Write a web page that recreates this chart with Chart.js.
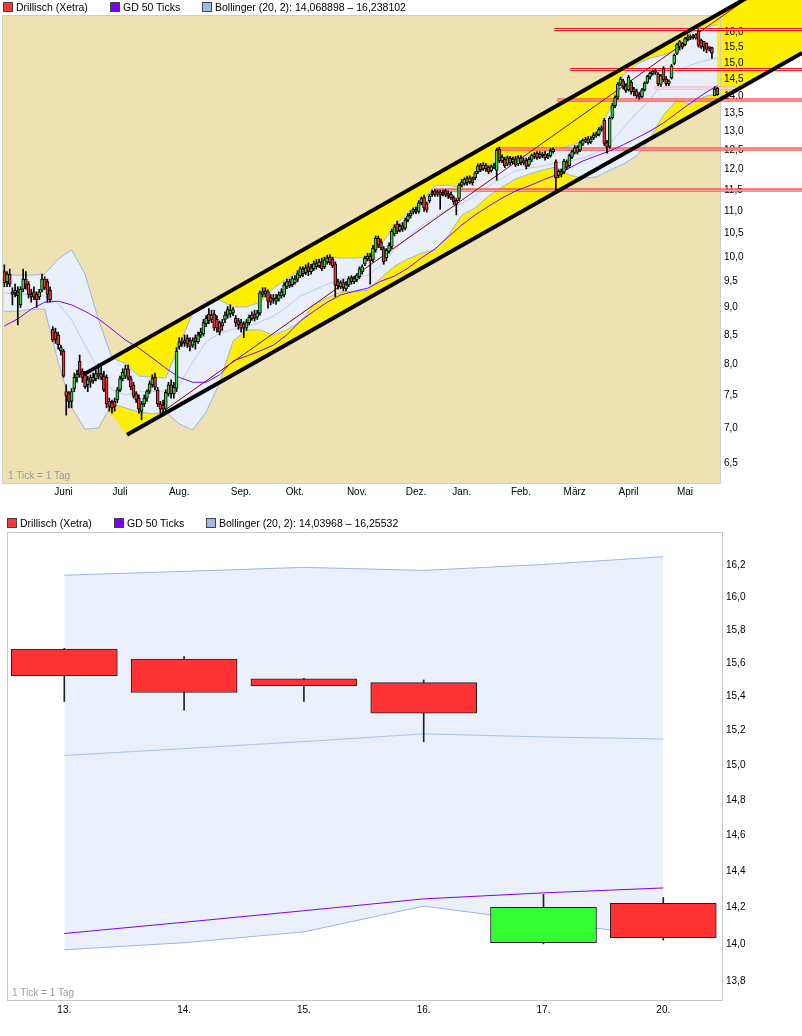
<!DOCTYPE html>
<html lang="de">
<head>
<meta charset="utf-8">
<title>Drillisch (Xetra)</title>
<script src="https://cdn.jsdelivr.net/npm/chart.js@4.4.1/dist/chart.umd.min.js"></script>
<style>
  html, body { margin: 0; padding: 0; background: #fff; }
  body { width: 802px; height: 1036px; position: relative; overflow: hidden;
         font-family: "Liberation Sans", Arial, sans-serif; }
  .panel { position: absolute; left: 0; width: 802px; }
  #panelYear { top: 0; height: 505px; }
  #panelDays { top: 510px; height: 526px; }
  canvas { position: absolute; left: 0; top: 0; }
  .legend { position: absolute; left: 0; font-size: 10.5px; color: #000; white-space: nowrap; }
  .legend span { position: absolute; top: 0; line-height: 12px; }
  .legend i { display: inline-block; width: 8px; height: 8px; border: 1px solid #444;
              margin-right: 3px; vertical-align: -1px; }
</style>
</head>
<body>

<div class="panel" id="panelYear">
  <canvas id="chartYear" width="802" height="505"></canvas>
  <div class="legend" style="top:1px">
    <span style="left:3px"><i style="background:#FF3333"></i>Drillisch (Xetra)</span>
    <span style="left:110px"><i style="background:#7A00FF"></i>GD 50 Ticks</span>
    <span style="left:202px"><i style="background:#A3B8E2"></i>Bollinger (20, 2): 14,068898 – 16,238102</span>
  </div>
</div>

<div class="panel" id="panelDays">
  <canvas id="chartDays" width="802" height="526"></canvas>
  <div class="legend" style="top:7px">
    <span style="left:7px"><i style="background:#FF3333"></i>Drillisch (Xetra)</span>
    <span style="left:114px"><i style="background:#7A00FF"></i>GD 50 Ticks</span>
    <span style="left:206px"><i style="background:#A3B8E2"></i>Bollinger (20, 2): 14,03968 – 16,25532</span>
  </div>
</div>

<script>
// ---------- Jahreschart: Tageskerzen 02.05.2012 - 20.05.2013 ----------
const firstDay = '2012-05-02';
const lastDay = '2013-05-20';
const closedDays = ['2012-12-24', '2012-12-25', '2012-12-26', '2012-12-31',
                    '2013-01-01', '2013-03-29', '2013-04-01', '2013-05-01'];
const monthNames = ['Jan.', 'Feb.', 'März', 'April', 'Mai', 'Juni', 'Juli', 'Aug.', 'Sep.', 'Okt.', 'Nov.', 'Dez.'];

const openYear = [
  9.70, 9.50, 9.65, 9.30, 9.28, 9.30, 9.05, 9.35, 9.55, 9.45,
  9.25, 9.30, 9.25, 9.20, 9.33, 9.55, 9.50, 9.33, 8.60, 8.55,
  8.50, 8.22, 8.22, 7.55, 7.52, 7.40, 7.60, 7.78, 8.05, 7.88,
  7.82, 7.66, 7.78, 7.72, 7.76, 7.84, 7.84, 7.80, 7.78, 7.40,
  7.38, 7.40, 7.42, 7.58, 7.76, 7.80, 7.92, 7.76, 7.66, 7.52,
  7.45, 7.25, 7.36, 7.45, 7.56, 7.66, 7.78, 7.58, 7.36, 7.34,
  7.28, 7.52, 7.66, 7.52, 7.60, 8.30, 8.38, 8.36, 8.45, 8.40,
  8.32, 8.45, 8.38, 8.50, 8.52, 8.70, 8.88, 8.78, 8.88, 8.78,
  8.72, 8.72, 8.78, 8.86, 8.88, 8.90, 8.80, 8.76, 8.72, 8.70,
  8.62, 8.72, 8.80, 8.88, 8.82, 8.90, 9.25, 9.32, 9.30, 9.20,
  9.18, 9.12, 9.16, 9.22, 9.24, 9.40, 9.50, 9.44, 9.48, 9.55,
  9.62, 9.76, 9.68, 9.80, 9.70, 9.76, 9.88, 9.82, 9.90, 9.80,
  9.90, 10.00, 9.96, 9.86, 9.50, 9.40, 9.48, 9.36, 9.44, 9.58,
  9.50, 9.54, 9.60, 9.70, 9.86, 9.96, 10.02, 9.94, 10.15, 10.40,
  10.32, 10.18, 9.98, 10.12, 10.22, 10.50, 10.72, 10.58, 10.68, 10.62,
  10.80, 10.90, 10.98, 11.05, 11.00, 11.20, 11.32, 11.18, 11.25, 11.40,
  11.48, 11.42, 11.46, 11.40, 11.48, 11.42, 11.40, 11.32, 11.26, 11.30,
  11.62, 11.66, 11.80, 11.70, 11.78, 11.80, 11.95, 12.12, 12.02, 12.12,
  12.06, 11.98, 12.06, 11.98, 12.52, 12.22, 12.26, 12.14, 12.30, 12.20,
  12.28, 12.15, 12.30, 12.18, 12.24, 12.12, 12.24, 12.34, 12.42, 12.32,
  12.40, 12.40, 12.32, 12.36, 12.46, 12.20, 11.86, 11.96, 11.94, 12.20,
  12.10, 12.32, 12.44, 12.58, 12.50, 12.66, 12.74, 12.80, 12.72, 12.82,
  12.88, 12.92, 13.05, 13.30, 12.70, 12.60, 13.38, 13.72, 13.96, 14.35,
  14.45, 14.30, 14.18, 14.40, 14.12, 14.15, 14.04, 13.98, 14.18, 14.40,
  14.56, 14.66, 14.74, 14.66, 14.34, 14.82, 14.50, 14.36, 14.54, 14.98,
  15.30, 15.52, 15.62, 15.58, 15.76, 15.82, 15.86, 15.80, 16.02, 15.72,
  15.685, 15.626, 15.507, 15.484, 14.006, 14.22
];
const highYear = [
  9.84, 9.70, 9.75, 9.38, 9.45, 9.40, 9.40, 9.75, 9.70, 9.50,
  9.35, 9.40, 9.30, 9.35, 9.65, 9.60, 9.55, 9.40, 8.65, 8.62,
  8.55, 8.32, 8.25, 7.66, 7.55, 7.60, 7.85, 7.90, 8.15, 7.92,
  7.88, 7.80, 7.82, 7.85, 7.90, 8.00, 7.95, 7.88, 7.82, 7.45,
  7.42, 7.45, 7.62, 7.80, 7.92, 7.98, 7.98, 7.80, 7.70, 7.55,
  7.50, 7.40, 7.50, 7.58, 7.72, 7.82, 7.85, 7.62, 7.40, 7.42,
  7.58, 7.70, 7.74, 7.70, 8.28, 8.45, 8.45, 8.50, 8.50, 8.45,
  8.45, 8.50, 8.55, 8.62, 8.78, 8.85, 8.98, 8.95, 8.95, 8.85,
  8.75, 8.78, 8.92, 9.02, 9.05, 9.00, 8.85, 8.80, 8.78, 8.74,
  8.78, 8.86, 8.92, 8.95, 8.95, 9.32, 9.38, 9.38, 9.34, 9.25,
  9.25, 9.25, 9.30, 9.36, 9.48, 9.55, 9.55, 9.60, 9.62, 9.72,
  9.80, 9.80, 9.84, 9.88, 9.85, 9.92, 9.95, 9.96, 9.98, 10.00,
  10.04, 10.05, 10.00, 9.90, 9.55, 9.52, 9.55, 9.50, 9.60, 9.62,
  9.60, 9.66, 9.80, 9.84, 10.02, 10.08, 10.08, 10.25, 10.45, 10.45,
  10.38, 10.22, 10.18, 10.30, 10.60, 10.70, 10.78, 10.72, 10.75, 10.85,
  10.95, 11.02, 11.08, 11.10, 11.25, 11.34, 11.38, 11.22, 11.40, 11.50,
  11.52, 11.50, 11.50, 11.50, 11.52, 11.48, 11.45, 11.36, 11.30, 11.66,
  11.76, 11.80, 11.84, 11.85, 11.82, 11.96, 12.15, 12.16, 12.18, 12.16,
  12.10, 12.12, 12.16, 12.55, 12.58, 12.38, 12.32, 12.35, 12.34, 12.32,
  12.34, 12.36, 12.36, 12.30, 12.30, 12.32, 12.40, 12.44, 12.46, 12.46,
  12.44, 12.46, 12.42, 12.54, 12.56, 12.25, 12.00, 12.02, 12.26, 12.25,
  12.40, 12.50, 12.62, 12.62, 12.74, 12.80, 12.84, 12.86, 12.86, 12.96,
  12.98, 13.10, 13.15, 13.36, 12.76, 13.40, 13.78, 14.00, 14.40, 14.56,
  14.50, 14.36, 14.62, 14.45, 14.25, 14.20, 14.10, 14.22, 14.42, 14.62,
  14.72, 14.78, 14.80, 14.70, 14.64, 14.88, 14.58, 14.48, 14.95, 15.28,
  15.62, 15.72, 15.66, 15.82, 15.90, 15.90, 15.92, 15.94, 16.08, 15.76,
  15.69, 15.64, 15.51, 15.50, 14.27, 14.253
];
const lowYear = [
  9.40, 9.40, 9.40, 9.05, 9.20, 8.68, 9.00, 9.30, 9.35, 9.18,
  9.10, 9.15, 9.00, 9.15, 9.30, 9.35, 9.10, 9.10, 8.38, 8.35,
  8.25, 8.15, 7.78, 7.19, 7.30, 7.30, 7.55, 7.70, 7.78, 7.70,
  7.60, 7.55, 7.62, 7.68, 7.72, 7.75, 7.74, 7.55, 7.30, 7.25,
  7.22, 7.25, 7.38, 7.55, 7.72, 7.76, 7.74, 7.58, 7.45, 7.38,
  7.22, 7.12, 7.32, 7.40, 7.52, 7.62, 7.58, 7.32, 7.22, 7.22,
  7.25, 7.48, 7.45, 7.45, 7.55, 8.25, 8.30, 8.30, 8.28, 8.22,
  8.28, 8.25, 8.35, 8.45, 8.48, 8.65, 8.70, 8.72, 8.58, 8.55,
  8.50, 8.58, 8.72, 8.80, 8.82, 8.85, 8.65, 8.60, 8.55, 8.45,
  8.58, 8.68, 8.76, 8.75, 8.78, 8.86, 9.20, 9.20, 8.99, 9.05,
  9.08, 9.06, 9.12, 9.18, 9.20, 9.36, 9.38, 9.40, 9.45, 9.50,
  9.58, 9.60, 9.64, 9.62, 9.65, 9.72, 9.75, 9.78, 9.72, 9.76,
  9.85, 9.84, 9.78, 9.20, 9.35, 9.36, 9.32, 9.32, 9.40, 9.45,
  9.46, 9.50, 9.56, 9.65, 9.82, 9.92, 9.45, 9.90, 10.10, 10.20,
  10.15, 9.85, 9.92, 10.08, 10.18, 10.45, 10.50, 10.54, 10.55, 10.58,
  10.76, 10.85, 10.94, 10.95, 10.96, 11.15, 11.00, 10.98, 11.20, 11.35,
  11.35, 11.35, 11.05, 11.36, 11.34, 11.30, 11.28, 11.16, 10.92, 11.25,
  11.58, 11.62, 11.62, 11.65, 11.62, 11.75, 11.90, 11.95, 11.98, 11.96,
  11.90, 11.94, 12.02, 11.74, 12.18, 12.18, 12.05, 12.10, 12.12, 12.15,
  12.08, 12.10, 12.12, 12.12, 12.02, 12.08, 12.20, 12.28, 12.26, 12.28,
  12.30, 12.24, 12.28, 12.32, 12.42, 11.48, 11.80, 11.82, 11.90, 12.00,
  12.05, 12.28, 12.40, 12.40, 12.46, 12.62, 12.70, 12.66, 12.68, 12.78,
  12.84, 12.88, 13.00, 12.62, 12.42, 12.55, 13.34, 13.66, 13.90, 14.30,
  14.20, 14.10, 14.14, 14.05, 14.00, 13.94, 13.90, 13.94, 14.14, 14.36,
  14.50, 14.62, 14.64, 14.30, 14.28, 14.42, 14.30, 14.30, 14.50, 14.94,
  15.26, 15.40, 15.44, 15.54, 15.70, 15.74, 15.76, 15.76, 15.50, 15.46,
  15.372, 15.32, 15.372, 15.135, 14.00, 14.02
];
const closeYear = [
  9.48, 9.65, 9.45, 9.25, 9.33, 9.22, 9.35, 9.55, 9.45, 9.25,
  9.20, 9.20, 9.15, 9.30, 9.55, 9.38, 9.25, 9.15, 8.41, 8.42,
  8.33, 8.28, 7.80, 7.48, 7.40, 7.55, 7.78, 7.83, 7.82, 7.78,
  7.63, 7.74, 7.70, 7.78, 7.84, 7.80, 7.78, 7.58, 7.36, 7.32,
  7.30, 7.32, 7.58, 7.76, 7.86, 7.92, 7.78, 7.62, 7.48, 7.42,
  7.28, 7.36, 7.45, 7.55, 7.68, 7.76, 7.62, 7.36, 7.28, 7.28,
  7.54, 7.66, 7.52, 7.62, 8.22, 8.38, 8.34, 8.40, 8.34, 8.30,
  8.40, 8.38, 8.50, 8.55, 8.72, 8.80, 8.75, 8.86, 8.62, 8.62,
  8.55, 8.66, 8.86, 8.96, 8.95, 8.96, 8.72, 8.68, 8.62, 8.62,
  8.72, 8.82, 8.86, 8.80, 8.90, 9.28, 9.30, 9.26, 9.12, 9.10,
  9.14, 9.18, 9.24, 9.30, 9.43, 9.50, 9.42, 9.56, 9.55, 9.66,
  9.76, 9.66, 9.78, 9.70, 9.78, 9.86, 9.80, 9.90, 9.76, 9.94,
  9.98, 9.88, 9.82, 9.43, 9.42, 9.48, 9.38, 9.44, 9.56, 9.50,
  9.56, 9.62, 9.76, 9.80, 9.98, 10.02, 9.92, 10.19, 10.40, 10.25,
  10.20, 9.90, 10.14, 10.25, 10.55, 10.65, 10.55, 10.66, 10.60, 10.80,
  10.90, 10.96, 11.04, 11.00, 11.20, 11.30, 11.08, 11.03, 11.36, 11.44,
  11.40, 11.45, 11.38, 11.44, 11.40, 11.36, 11.32, 11.22, 11.16, 11.62,
  11.70, 11.76, 11.68, 11.80, 11.68, 11.92, 12.10, 12.00, 12.12, 12.02,
  11.95, 12.08, 12.10, 12.50, 12.22, 12.32, 12.10, 12.30, 12.18, 12.26,
  12.12, 12.30, 12.18, 12.22, 12.08, 12.26, 12.36, 12.38, 12.30, 12.40,
  12.36, 12.30, 12.36, 12.48, 12.52, 11.80, 11.96, 11.88, 12.22, 12.06,
  12.36, 12.46, 12.56, 12.44, 12.70, 12.76, 12.78, 12.70, 12.80, 12.90,
  12.92, 13.05, 13.10, 12.68, 12.58, 13.36, 13.72, 13.95, 14.35, 14.50,
  14.28, 14.16, 14.56, 14.12, 14.20, 14.00, 13.96, 14.18, 14.38, 14.58,
  14.68, 14.74, 14.70, 14.36, 14.60, 14.48, 14.36, 14.44, 14.90, 15.24,
  15.58, 15.68, 15.50, 15.78, 15.84, 15.86, 15.82, 15.90, 15.56, 15.50,
  15.525, 15.425, 15.466, 15.303, 14.199, 14.033
];

const BAND_STEP = 5;
const bandUpperYear = [
  9.63, 9.63, 9.63, 9.65, 9.96, 10.15, 9.65, 8.77, 8.10, 8.01,
  7.80, 7.78, 7.77, 8.32, 8.90, 9.12, 9.14, 9.01, 9.01, 9.10,
  9.37, 9.55, 9.73, 9.88, 10.00, 9.98, 9.98, 10.00, 10.27, 10.65,
  10.98, 11.21, 11.60, 11.62, 11.55, 11.87, 12.09, 12.32, 12.32, 12.37,
  12.45, 12.53, 12.60, 12.74, 12.96, 13.59, 14.63, 14.96, 15.15, 15.25,
  15.41, 15.96, 16.14, 16.24
];
const bandMidYear = [
  9.28, 9.26, 9.24, 9.22, 9.08, 8.77, 8.32, 7.90, 7.58, 7.50,
  7.55, 7.55, 7.56, 7.66, 8.03, 8.38, 8.53, 8.60, 8.64, 8.73,
  8.84, 9.01, 9.22, 9.33, 9.45, 9.55, 9.57, 9.63, 9.83, 10.15,
  10.43, 10.67, 10.87, 11.05, 11.19, 11.36, 11.60, 11.79, 11.97, 12.04,
  12.09, 12.17, 12.22, 12.30, 12.43, 12.66, 13.09, 13.51, 13.88, 14.44,
  14.75, 14.93, 15.06, 15.15
];
const bandLowerYear = [
  8.93, 8.93, 8.97, 8.97, 8.03, 7.31, 6.98, 7.00, 7.36, 7.30,
  7.24, 7.21, 7.24, 7.06, 6.97, 7.24, 7.69, 8.39, 8.59, 8.59,
  8.50, 8.59, 8.73, 9.05, 9.18, 9.30, 9.30, 9.33, 9.57, 9.81,
  9.96, 10.08, 10.15, 10.45, 10.92, 11.08, 11.36, 11.57, 11.77, 11.89,
  11.99, 12.07, 11.87, 11.79, 11.82, 11.99, 12.14, 12.35, 12.80, 13.45,
  13.88, 13.76, 13.97, 14.07
];
const gd50Year = [
  8.66, 8.79, 8.97, 9.10, 9.12, 9.05, 8.93, 8.79, 8.60, 8.41,
  8.27, 8.10, 7.93, 7.78, 7.70, 7.70, 7.82, 8.05, 8.13, 8.22,
  8.32, 8.50, 8.75, 8.93, 9.10, 9.24, 9.31, 9.37, 9.51, 9.61,
  9.77, 9.98, 10.17, 10.43, 10.69, 10.92, 11.12, 11.31, 11.48, 11.60,
  11.74, 11.87, 12.04, 12.22, 12.35, 12.48, 12.64, 12.82, 13.01, 13.23,
  13.51, 13.79, 14.06, 14.30
];

// Trendkanal, Trendlinie und Marken: [Handelstag-Index, Kurs]
const channelUpper = [[29.2, 7.82], [296.5, 18.34]];
const channelLower = [[45.6, 6.90], [296.5, 15.31]];
const trendLine = [[60.5, 7.29], [275.3, 17.10]];
const levelPrices = [16.08, 14.79, 13.88, 12.53, 11.50];
const levelFrom = [204.3, 210.3, 205.5, 183.1, 159.7];
const levelTo = 296.5;
const lastMark = [[241.5, 14.23], [272.4, 14.23]];
const priceTicksYear = [6.5, 7.0, 7.5, 8.0, 8.5, 9.0, 9.5, 10.0, 10.5, 11.0, 11.5,
                        12.0, 12.5, 13.0, 13.5, 14.0, 14.5, 15.0, 15.5, 16.0];

// ---------- Detailchart: 13.05. - 20.05.2013 ----------
const dayLabels = ['13.', '14.', '15.', '16.', '17.', '20.'];
const openDays = [15.685, 15.626, 15.507, 15.484, 14.006, 14.22];
const highDays = [15.69, 15.64, 15.51, 15.50, 14.27, 14.253];
const lowDays = [15.372, 15.32, 15.372, 15.135, 14.00, 14.02];
const closeDays = [15.525, 15.425, 15.466, 15.303, 14.199, 14.033];
const bandUpperDays = [16.139, 16.163, 16.188, 16.169, 16.206, 16.255];
const bandMidDays = [15.055, 15.095, 15.136, 15.181, 15.163, 15.151];
const bandLowerDays = [13.968, 14.006, 14.065, 14.205, 14.12, 14.040];
const gd50Days = [14.056, 14.117, 14.18, 14.245, 14.278, 14.305];
const priceTicksDays = [13.8, 14.0, 14.2, 14.4, 14.6, 14.8, 15.0, 15.2, 15.4, 15.6, 15.8, 16.0, 16.2];

// ---------- helpers ----------
const FONT = '"Liberation Sans", Arial, sans-serif';
const fmt = v => v.toFixed(1).replace('.', ',');
const pts = pairs => pairs.map(([x, y]) => ({ x, y }));

function tradingDays() {
  const out = [];
  const d = new Date(firstDay + 'T12:00:00Z');
  const end = new Date(lastDay + 'T12:00:00Z');
  while (d <= end) {
    const iso = d.toISOString().slice(0, 10);
    const wd = d.getUTCDay();
    if (wd !== 0 && wd !== 6 && !closedDays.includes(iso)) out.push(iso);
    d.setUTCDate(d.getUTCDate() + 1);
  }
  return out;
}

function line(data, color, width, order, extra) {
  return Object.assign({
    type: 'line', data, borderColor: color, borderWidth: width,
    pointRadius: 0, fill: false, tension: 0, order
  }, extra || {});
}

function bandSets(upper, mid, lower, step, c) {
  const toPts = arr => arr.map((v, k) => ({ x: k * step, y: v }));
  return [
    line(toPts(upper), c.edge, 1, 30, { fill: '+1', backgroundColor: c.fill }),
    line(toPts(lower), c.edge, 1, 29),
    line(toPts(mid), c.mid, 1, 28)
  ];
}

function candleSets(o, h, l, c, width, colors) {
  const idx = o.map((_, i) => i);
  return [
    { type: 'bar', data: idx.map(i => ({ x: i, y: [l[i], h[i]] })),
      backgroundColor: colors.wick, barThickness: 1, grouped: false, order: 3 },
    { type: 'bar', data: idx.map(i => ({ x: i, y: [o[i], c[i]] })),
      backgroundColor: idx.map(i => c[i] >= o[i] ? colors.up : colors.down),
      borderColor: colors.edge, borderWidth: 1, borderSkipped: false,
      barThickness: width, grouped: false, order: 2 }
  ];
}

// Hintergrund der Zeichenfläche, gelber Trendkanal, Hinweis "1 Tick = 1 Tag"
const backdrop = {
  id: 'backdrop',
  beforeDraw(chart, args, opts) {
    const { ctx, chartArea: a, scales: { x, y } } = chart;
    ctx.save();
    ctx.fillStyle = opts.fill;
    ctx.fillRect(a.left, a.top, a.right - a.left, a.bottom - a.top);
    if (opts.channel) {
      const p = ([i, v]) => [x.getPixelForValue(i), y.getPixelForValue(v)];
      const poly = [p(opts.channel.upper[0]), p(opts.channel.upper[1]),
                    p(opts.channel.lower[1]), p(opts.channel.lower[0])];
      ctx.beginPath();
      poly.forEach(([px, py], k) => k ? ctx.lineTo(px, py) : ctx.moveTo(px, py));
      ctx.closePath();
      ctx.fillStyle = opts.channel.color;
      ctx.fill();
    }
    ctx.strokeStyle = opts.border;
    ctx.lineWidth = 1;
    ctx.strokeRect(a.left - 0.5, a.top - 0.5, a.right - a.left + 1, a.bottom - a.top + 1);
    ctx.font = '10px ' + FONT;
    ctx.fillStyle = '#9C9C9C';
    ctx.fillText('1 Tick = 1 Tag', a.left + opts.noteX, a.bottom - 4);
    ctx.restore();
  }
};

function axes(o) {
  return {
    x: {
      type: 'linear', min: o.xMin, max: o.xMax, offset: false,
      grid: { display: false, drawTicks: false }, border: { display: false },
      afterFit: s => { s.height = o.xHeight; },
      afterBuildTicks: s => { s.ticks = o.xTicks.map(v => ({ value: v })); },
      ticks: { autoSkip: false, maxRotation: 0, padding: o.xPad, color: '#000',
               font: { family: FONT, size: 10 }, callback: o.xLabel }
    },
    y: {
      type: 'logarithmic', position: 'right', min: o.yMin, max: o.yMax,
      grid: { display: false, drawTicks: false }, border: { display: false },
      afterFit: s => { s.width = o.yWidth; },
      afterBuildTicks: s => { s.ticks = o.yTicks.map(v => ({ value: v })); },
      ticks: { padding: 4, color: '#000', font: { family: FONT, size: 10 }, callback: v => fmt(v) }
    }
  };
}

// ---------- Jahreschart ----------
const days = tradingDays();
const monthTicks = [];
days.forEach((d, i) => { if (i > 0 && d.slice(5, 7) !== days[i - 1].slice(5, 7)) monthTicks.push(i); });
const monthLabel = new Map(monthTicks.map(i => [i, monthNames[Number(days[i].slice(5, 7)) - 1]]));

const yearSets = [
  ...bandSets(bandUpperYear, bandMidYear, bandLowerYear, BAND_STEP,
              { edge: '#9DB5E6', fill: '#EAF0FB', mid: '#BACDF0' })
];
levelPrices.forEach((p, k) => {
  const seg = pts([[levelFrom[k], p], [levelTo, p]]);
  yearSets.push(line(seg, '#FF1010', 3, 20, { clip: false }));
  yearSets.push(line(seg, '#FFFFFF', 1, 19, { clip: false }));
});
yearSets.push(line(pts(lastMark), '#F2A4B4', 3, 18, { clip: false }));
yearSets.push(line(pts(lastMark), '#FFFFFF', 1, 17, { clip: false }));
yearSets.push(line(pts(trendLine), '#8B0000', 1, 6, { clip: false }));
yearSets.push(line(gd50Year.map((v, k) => ({ x: k * BAND_STEP, y: v })), '#7F00FF', 1, 5));
yearSets.push(...candleSets(openYear, highYear, lowYear, closeYear, 3,
                            { up: '#33DD33', down: '#F03333', edge: '#000', wick: '#000' }));
yearSets.push(line(pts(channelUpper), '#000', 4, 1, { clip: false }));
yearSets.push(line(pts(channelLower), '#000', 4, 1, { clip: false }));

new Chart(document.getElementById('chartYear'), {
  type: 'bar',
  data: { datasets: yearSets },
  options: {
    responsive: false, animation: false, events: [],
    layout: { padding: { top: 16, left: 3, right: 0, bottom: 0 } },
    plugins: {
      legend: { display: false }, tooltip: { enabled: false },
      backdrop: { fill: '#EEE1B2', border: '#CFCFCF', noteX: 5,
                  channel: { upper: channelUpper, lower: channelLower, color: '#FFEF00' } }
    },
    scales: axes({
      xMin: -0.5, xMax: days.length, xHeight: 22, xPad: 3, xTicks: monthTicks,
      xLabel: v => monthLabel.get(v) || '',
      yMin: 6.24, yMax: 16.54, yWidth: 82, yTicks: priceTicksYear
    })
  },
  plugins: [backdrop]
});

// ---------- Detailchart ----------
const daySets = [
  ...bandSets(bandUpperDays, bandMidDays, bandLowerDays, 1,
              { edge: '#9DB5E6', fill: '#EAF1FC', mid: '#A9C2EE' }),
  line(gd50Days.map((v, i) => ({ x: i, y: v })), '#7F00FF', 1, 5),
  ...candleSets(openDays, highDays, lowDays, closeDays, 106,
                { up: '#33FF33', down: '#FF3333', edge: '#222', wick: '#222' })
];

new Chart(document.getElementById('chartDays'), {
  type: 'bar',
  data: { datasets: daySets },
  options: {
    responsive: false, animation: false, events: [],
    layout: { padding: { top: 23, left: 8, right: 0, bottom: 0 } },
    plugins: {
      legend: { display: false }, tooltip: { enabled: false },
      backdrop: { fill: '#FFFFFF', border: '#C8C8C8', noteX: 4 }
    },
    scales: axes({
      xMin: -0.47, xMax: 5.49, xHeight: 36, xPad: 4, xTicks: dayLabels.map((_, i) => i),
      xLabel: v => dayLabels[v] || '',
      yMin: 13.737, yMax: 16.404, yWidth: 80, yTicks: priceTicksDays
    })
  },
  plugins: [backdrop]
});
</script>
</body>
</html>
